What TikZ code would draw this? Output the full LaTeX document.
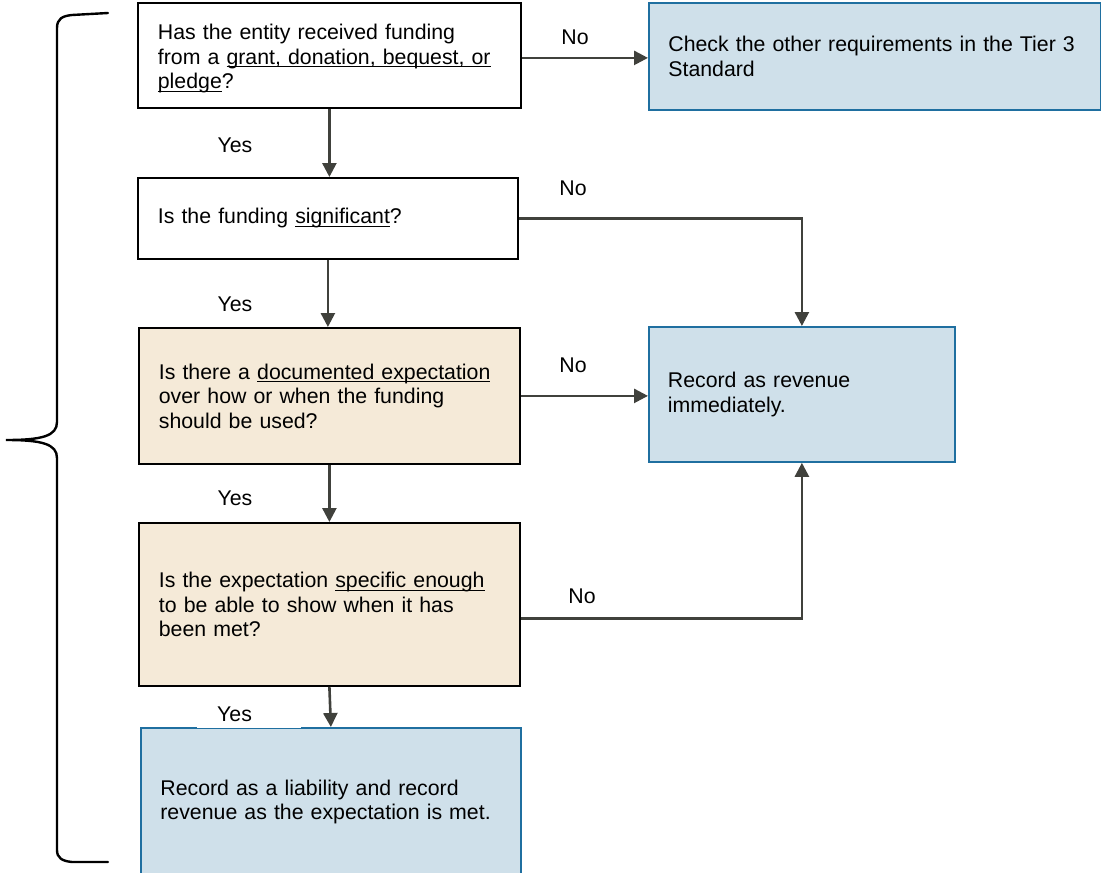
\documentclass[tikz,border=0pt]{standalone}
\usepackage{fontspec}
\setmainfont{Liberation Sans}
\usetikzlibrary{arrows.meta}
\definecolor{bluefill}{RGB}{207,224,234}
\definecolor{blueedge}{RGB}{31,111,160}
\definecolor{beige}{RGB}{245,234,216}
\definecolor{arrowgrey}{RGB}{64,65,60}
\newcommand{\uln}[1]{\leavevmode\setbox0=\hbox{#1}\rlap{\rule[-3pt]{\wd0}{0.9pt}}\box0}
\begin{document}
\begin{tikzpicture}[x=1pt,y=-1pt,
  every node/.style={font=\fontsize{21.3}{24.5}\selectfont},
  box/.style={draw=black, line width=1.8pt, anchor=north west, align=left, inner xsep=20pt, inner ysep=0pt},
  whitebox/.style={box, fill=white},
  tanbox/.style={box, fill=beige},
  bluebox/.style={box, draw=blueedge, fill=bluefill},
  arr/.style={draw=arrowgrey, line width=2.6pt, -{Triangle[length=14pt,width=14pt]}},
  lbl/.style={inner sep=0pt},
  bracestyle/.style={draw=black, line width=2.4pt, line cap=round}]
\useasboundingbox (0,0) rectangle (1101,873);

% boxes
\node[whitebox, minimum width=383pt, text width=343pt, minimum height=105pt] (A) at (137,2)
  {\rule{0pt}{22pt}Has the entity received funding\\from a \uln{grant, donation, bequest, or}\\\uln{pledge}?};
\node[bluebox, minimum width=452pt, text width=413pt, minimum height=107pt, inner xsep=19pt] (B) at (648,2)
  {Check the other requirements in the Tier 3\\Standard};
\node[whitebox, minimum width=380pt, text width=340pt, minimum height=81pt] (C) at (137,177)
  {Is the funding \uln{significant}?};
\node[tanbox, minimum width=381pt, text width=341pt, minimum height=136pt] (D) at (138,327)
  {Is there a \uln{documented expectation}\\over how or when the funding\\should be used?};
\node[bluebox, minimum width=306pt, text width=268pt, minimum height=135pt, inner xsep=19pt] (E) at (648,326)
  {Record as revenue\\immediately.};
\node[tanbox, minimum width=381pt, text width=341pt, minimum height=163pt] (F) at (138,522)
  {Is the expectation \uln{specific enough}\\to be able to show when it has\\been met?};
\node[bluebox, minimum width=380pt, text width=341pt, minimum height=148pt, inner xsep=19pt] (G) at (140,727)
  {Record as a liability and record\\revenue as the expectation is met.};

% labels
\node[lbl] (noA) at (575,37) {No};
\node[lbl] (yesA) at (235,145) {Yes};
\node[lbl] (noC) at (573,188) {No};
\node[lbl] (yesC) at (235,304) {Yes};
\node[lbl] (noD) at (573,365) {No};
\node[lbl] (yesD) at (235,498) {Yes};
\node[lbl] (noF) at (582,596) {No};
\node[fill=white, anchor=west, inner xsep=20pt, inner ysep=0pt, text width=64pt, minimum height=28pt, align=left] (yesF) at (197,714) {Yes};

% connectors
\draw[arr] ([yshift=-2.5pt]A.east) -- ([yshift=-2.5pt]A.east -| B.west);
\draw[arr] (A.south) -- (A.south |- C.north);
\draw[arr] (C.east) -| (E.north);
\draw[arr] (C.south) -- (C.south |- D.north);
\draw[arr] (D.east) -- (D.east -| E.west);
\draw[arr] (D.south) -- (D.south |- F.north);
\draw[arr] ([yshift=-14pt]F.east) -| (E.south);
\draw[arr] (F.south) -- (G.north);

% brace
\draw[bracestyle] (108,13) -- (72,15) .. controls (62,16) and (57,19) .. (57,28)
  -- (57,422) .. controls (57,436) and (42,440) .. (6,440)
  .. controls (42,440) and (57,444) .. (57,458)
  -- (57,850) .. controls (57,858) and (62,861) .. (72,862) -- (108,862);
\end{tikzpicture}
\end{document}
